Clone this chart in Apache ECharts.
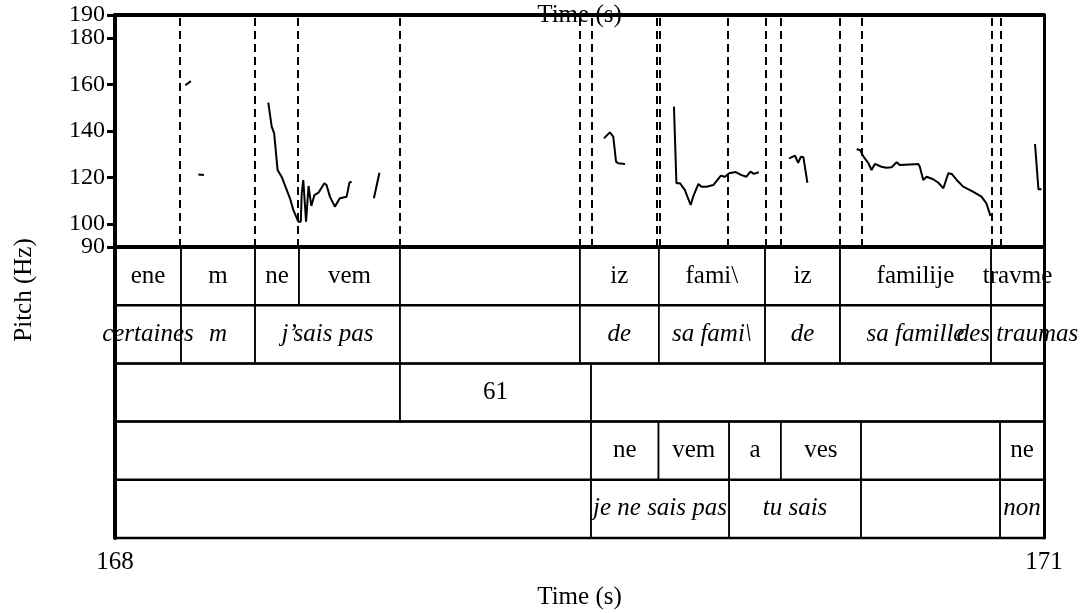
<!DOCTYPE html>
<html>
<head>
<meta charset="utf-8">
<script src="https://cdn.jsdelivr.net/npm/echarts@6/dist/echarts.min.js"></script>
<style>
  html, body { margin: 0; padding: 0; background: #fff; }
  #chart { width: 1085px; height: 613px; }
</style>
</head>
<body>
<div id="chart"></div>
<script>
//Courbe de F0 : segments voisés [temps (s), Hz]
const pitchSeg1 = [[168.227, 159.7], [168.245, 161.5]];
const pitchSeg2 = [[168.269, 121.3], [168.287, 121.0]];
const pitchSeg3 = [
  [168.495, 152.2], [168.506, 141.9], [168.514, 139.0], [168.525, 123.2], [168.538, 120.3],
  [168.565, 111.0], [168.576, 105.9], [168.592, 100.9], [168.600, 100.9], [168.603, 113.1],
  [168.608, 118.9], [168.617, 100.9], [168.625, 116.3], [168.634, 107.7], [168.644, 112.4],
  [168.657, 113.4], [168.676, 117.5], [168.683, 116.7], [168.694, 111.7], [168.710, 107.4],
  [168.716, 107.4], [168.726, 111.0], [168.748, 111.7], [168.757, 117.7], [168.764, 118.2]
];
const pitchSeg4 = [[168.836, 111.0], [168.840, 111.0], [168.854, 122.0]];
const pitchSeg5 = [
  [169.579, 136.8], [169.598, 139.4], [169.609, 137.6], [169.618, 126.8], [169.625, 126.1], [169.647, 125.8]
];
const pitchSeg6 = [
  [169.805, 150.5], [169.813, 117.5], [169.824, 117.5], [169.840, 114.6], [169.859, 108.1],
  [169.867, 111.7], [169.884, 117.2], [169.894, 116.0], [169.910, 116.0], [169.932, 116.7],
  [169.956, 120.7], [169.970, 120.3], [169.983, 121.8], [170.005, 122.3], [170.023, 121.0],
  [170.039, 120.3], [170.052, 122.5], [170.063, 121.5], [170.079, 122.2]
];
const pitchSeg7 = [
  [170.177, 128.2], [170.196, 129.4], [170.206, 126.3], [170.215, 128.9], [170.223, 128.7], [170.236, 117.7]
];
const pitchSeg8 = [
  [170.395, 132.1], [170.406, 131.8], [170.416, 129.2], [170.433, 126.1], [170.443, 123.2],
  [170.454, 125.8], [170.475, 124.6], [170.491, 124.2], [170.508, 124.4], [170.524, 126.5],
  [170.535, 125.3], [170.567, 125.6], [170.594, 125.8], [170.599, 124.6], [170.610, 118.9],
  [170.621, 120.3], [170.642, 119.2], [170.659, 117.7], [170.675, 115.3], [170.691, 121.8],
  [170.702, 121.5], [170.718, 118.9], [170.739, 116.0], [170.772, 113.8], [170.798, 111.7],
  [170.814, 108.8], [170.827, 103.4]
];
const pitchSeg9 = [[170.971, 134.4], [170.982, 114.9], [170.992, 114.9]];
const pitchSegments = [pitchSeg1, pitchSeg2, pitchSeg3, pitchSeg4, pitchSeg5, pitchSeg6, pitchSeg7, pitchSeg8, pitchSeg9];

//Tiers d'annotation : frontières et étiquettes
const tier1Bounds = [168, 168.213, 168.452, 168.594, 168.920, 169.501, 169.756, 170.099, 170.341, 170.829, 171];
const tier1Labels = ['ene', 'm', 'ne', 'vem', '', 'iz', 'fami\\', 'iz', 'familije', 'travme'];
const tier2Bounds = [168, 168.213, 168.452, 168.920, 169.501, 169.756, 170.099, 170.341, 170.829, 171];
const tier2Labels = ['certaines', 'm', 'j\u2019sais pas', '', 'de', 'sa fami\\', 'de', 'sa famille', 'des traumas'];
const tier3Bounds = [168, 168.920, 169.537, 171];
const tier3Labels = ['', '61', ''];
const tier4Bounds = [168, 169.537, 169.755, 169.983, 170.150, 170.409, 170.858, 171];
const tier4Labels = ['', 'ne', 'vem', 'a', 'ves', '', 'ne'];
const tier5Bounds = [168, 169.537, 169.983, 170.409, 170.858, 171];
const tier5Labels = ['', 'je ne sais pas', 'tu sais', '', 'non'];

//Graduations (intérieures et bornes, sur deux axes pour éviter le masquage)
const pitchTicksInner = [100, 120, 140, 160, 180];
const pitchTicksEnds = [90, 190];
const timeTicks = [168, 171];

const tiers = [
  { bounds: tier1Bounds, labels: tier1Labels, italic: false },
  { bounds: tier2Bounds, labels: tier2Labels, italic: true },
  { bounds: tier3Bounds, labels: tier3Labels, italic: false },
  { bounds: tier4Bounds, labels: tier4Labels, italic: false },
  { bounds: tier5Bounds, labels: tier5Labels, italic: true }
];

//Intervalles [début, fin, tier] + étiquettes à part
const intervals = [];
const intervalText = [];
tiers.forEach((t, i) => {
  for (let k = 0; k < t.labels.length; k++) {
    intervals.push([t.bounds[k], t.bounds[k + 1], i]);
    intervalText.push({ text: t.labels[k], italic: t.italic });
  }
});

//Lignes pointillées : frontières des tiers 1 et 4
const dashTimes = [...tier1Bounds.slice(1, -1), ...tier4Bounds.slice(1, -1)];

const FONT = '"Liberation Serif", "Times New Roman", serif';
const chart = echarts.init(document.getElementById('chart'));

const pitchSeries = pitchSegments.map((seg, i) => ({
  type: 'line',
  xAxisIndex: 0,
  yAxisIndex: 0,
  data: seg,
  symbol: 'none',
  silent: true,
  animation: false,
  lineStyle: { color: '#000', width: 2 },
  markLine: i === 0 ? {
    silent: true,
    symbol: 'none',
    animation: false,
    label: { show: false },
    lineStyle: { color: '#000', width: 2, type: [8, 5] },
    data: dashTimes.map(t => ({ xAxis: t }))
  } : undefined
}));

const pitchAxis = (ticks, extra) => ({
  type: 'value', gridIndex: 0, min: 90, max: 190, position: 'left',
  axisLine: { show: true, lineStyle: { color: '#000', width: 4 } },
  axisTick: { show: true, customValues: ticks, length: 8, lineStyle: { color: '#000', width: 3 } },
  axisLabel: {
    customValues: ticks, hideOverlap: false,
    margin: 10, fontFamily: FONT, fontSize: 24, color: '#000', ...extra
  },
  splitLine: { show: false }
});

chart.setOption({
  animation: false,
  backgroundColor: '#fff',
  grid: [
    { left: 115, top: 15, width: 929, height: 232 },
    { left: 115, top: 247, width: 929, height: 291 }
  ],
  xAxis: [
    {
      type: 'value', gridIndex: 0, min: 168, max: 171, position: 'top',
      axisLine: { show: true, lineStyle: { color: '#000', width: 4 } },
      axisTick: { show: false }, axisLabel: { show: false }, splitLine: { show: false },
      name: 'Time (s)', nameLocation: 'middle', nameGap: 0,
      nameTextStyle: { fontFamily: FONT, fontSize: 25, color: '#000', verticalAlign: 'middle' }
    },
    {
      type: 'value', gridIndex: 1, min: 168, max: 171, position: 'bottom',
      axisLine: { show: true, lineStyle: { color: '#000', width: 4 } },
      axisTick: { show: true, customValues: timeTicks, length: 7, lineStyle: { color: '#000', width: 3 } },
      axisLabel: {
        customValues: timeTicks, showMinLabel: true, showMaxLabel: true,
        margin: 12, fontFamily: FONT, fontSize: 25, color: '#000'
      },
      splitLine: { show: false },
      name: 'Time (s)', nameLocation: 'middle', nameGap: 47,
      nameTextStyle: { fontFamily: FONT, fontSize: 25, color: '#000' }
    }
  ],
  yAxis: [
    pitchAxis(pitchTicksInner, { showMinLabel: true, showMaxLabel: true }),
    {
      type: 'value', gridIndex: 1, min: 0, max: 5, inverse: true, position: 'left',
      axisLine: { show: true, lineStyle: { color: '#000', width: 4 } },
      axisTick: { show: false }, axisLabel: { show: false }, splitLine: { show: false }
    },
    {
      type: 'value', gridIndex: 0, min: 90, max: 190, position: 'right',
      axisLine: { show: true, lineStyle: { color: '#000', width: 3 } },
      axisTick: { show: false }, axisLabel: { show: false }, splitLine: { show: false }
    },
    {
      type: 'value', gridIndex: 1, min: 0, max: 5, inverse: true, position: 'right',
      axisLine: { show: true, lineStyle: { color: '#000', width: 3 } },
      axisTick: { show: false }, axisLabel: { show: false }, splitLine: { show: false }
    },
    { ...pitchAxis(pitchTicksEnds, { showMinLabel: true, showMaxLabel: true }), offset: 0 }
  ],
  graphic: [{
    type: 'text', x: 24, y: 290, rotation: Math.PI / 2,
    style: { text: 'Pitch (Hz)', align: 'center', verticalAlign: 'middle', font: '25px ' + FONT, fill: '#000' }
  }],
  series: [
    ...pitchSeries,
    {
      type: 'custom',
      xAxisIndex: 1,
      yAxisIndex: 1,
      silent: true,
      clip: false,
      data: intervals,
      renderItem: (params, api) => {
        const p0 = api.coord([api.value(0), api.value(2)]);
        const p1 = api.coord([api.value(1), api.value(2) + 1]);
        const info = intervalText[params.dataIndex];
        return {
          type: 'group',
          children: [
            {
              type: 'rect',
              shape: { x: p0[0], y: p0[1], width: p1[0] - p0[0], height: p1[1] - p0[1] },
              style: { fill: 'none', stroke: '#000', lineWidth: 1.5 }
            },
            {
              type: 'line',
              shape: { x1: p0[0], y1: p1[1], x2: p1[0], y2: p1[1] },
              style: { stroke: '#000', lineWidth: 2.5 }
            },
            {
              type: 'text',
              style: {
                text: info.text,
                x: (p0[0] + p1[0]) / 2,
                y: (p0[1] + p1[1]) / 2,
                align: 'center',
                verticalAlign: 'middle',
                font: (info.italic ? 'italic ' : '') + '25px ' + FONT,
                fill: '#000'
              }
            }
          ]
        };
      }
    }
  ]
});

window.addEventListener('resize', () => chart.resize());
</script>
</body>
</html>
